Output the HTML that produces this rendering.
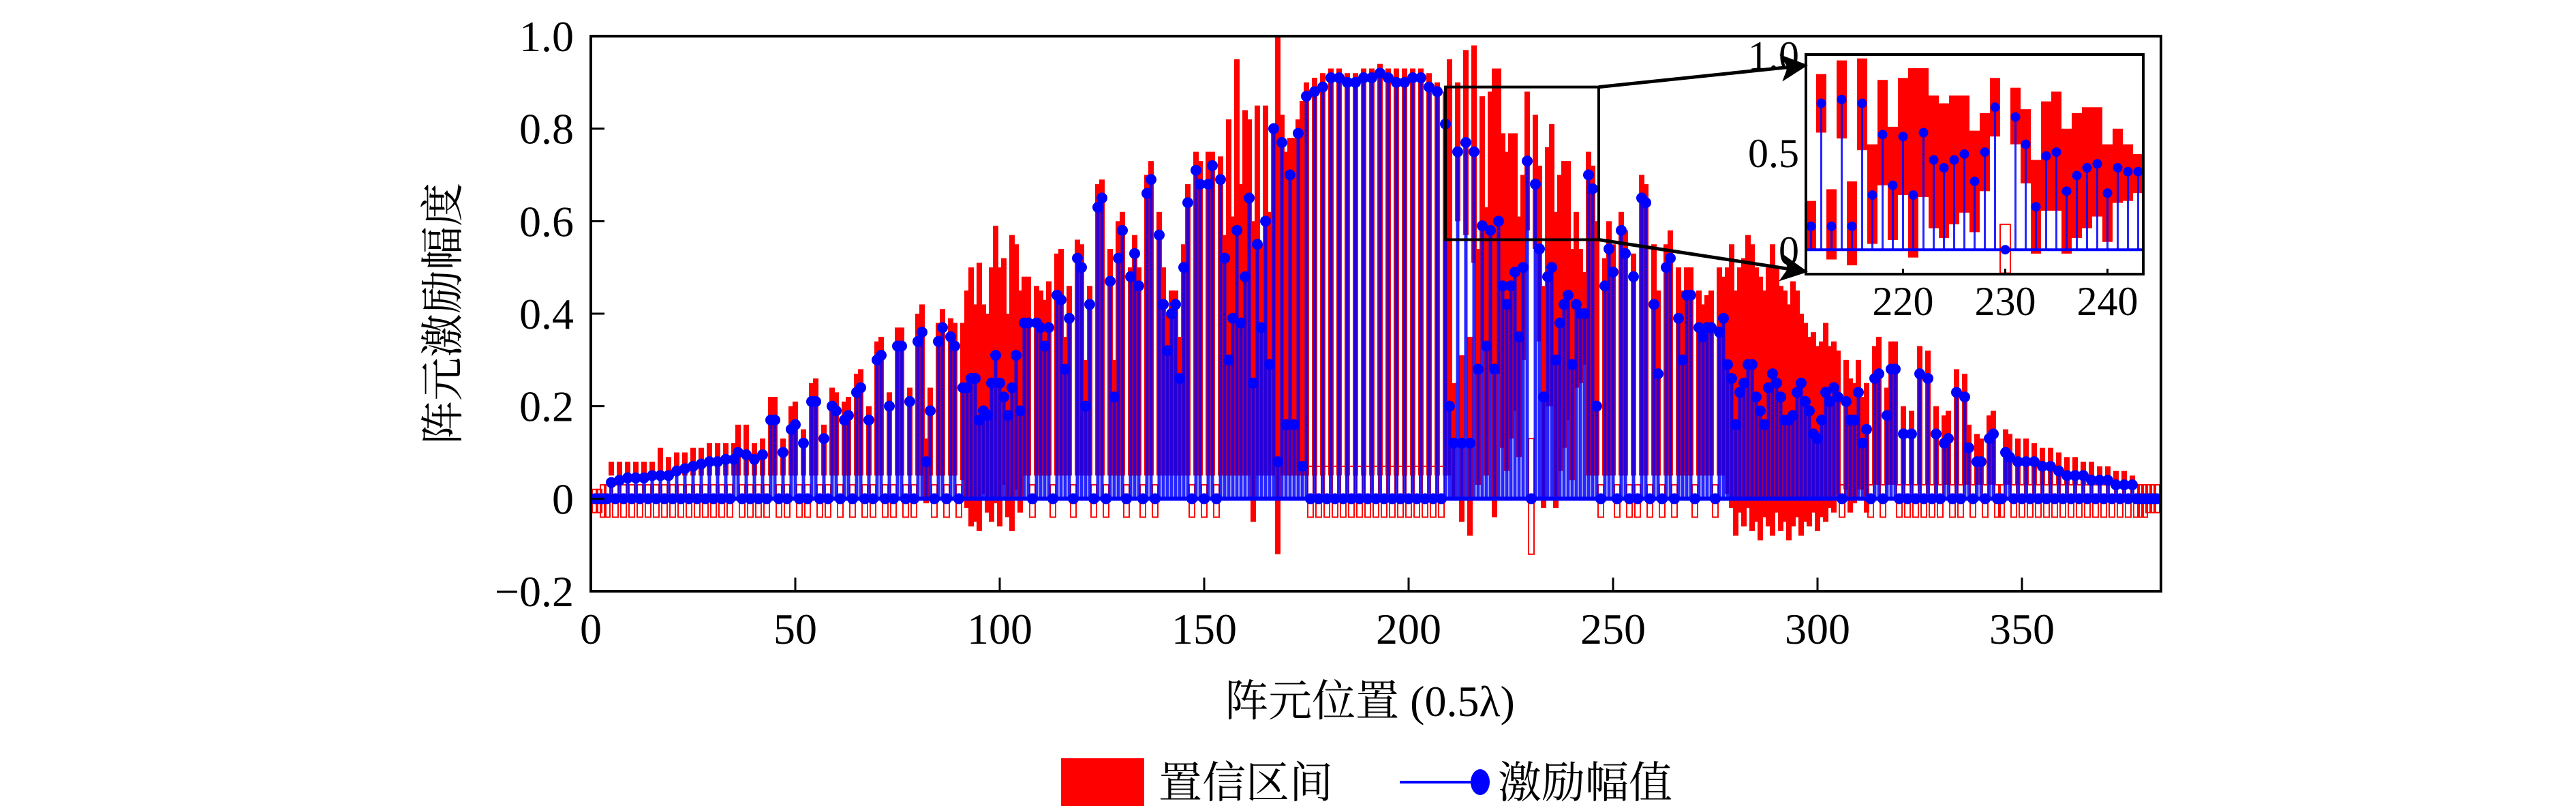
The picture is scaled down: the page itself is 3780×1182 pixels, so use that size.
<!DOCTYPE html>
<html><head><meta charset="utf-8">
<style>
html,body{margin:0;padding:0;background:#fff;}
svg{display:block;}
text{font-family:"Liberation Serif","Noto Serif CJK SC","Noto Sans CJK SC",serif;fill:#000;}
</style></head>
<body>
<svg id="chart" xmlns="http://www.w3.org/2000/svg" width="3780" height="1182" viewBox="0 0 3780 1182">
<g id="main"></g>
<g id="inset"></g>
<g id="annot"></g>
</svg>
<script>
// element index 1..383
const amp = [
0,0,0,0,.035,0,.04,0,.045,0,
.045,0,.045,0,.05,0,.05,0,.05,0,
.06,0,.065,0,.07,0,.075,0,.08,0,
.08,0,.085,0,.085,.1,0,.095,0,.085,
0,.095,0,.17,.17,0,.1,0,.15,.16,
0,.12,0,.21,.21,0,.13,0,.2,.19,
0,.17,.18,0,.23,.24,0,.17,0,.3,
.31,0,.2,0,.33,.33,0,.21,0,.34,
.36,.08,.19,0,.34,.37,0,.35,.33,0,
.24,.24,.26,.26,.17,.19,.18,.25,.31,.25,
.22,.18,.24,.31,.19,.38,.38,0,.38,.37,
.33,.37,0,.44,.43,.28,.39,0,.52,.5,
.2,.42,0,.63,.65,0,.47,.22,.52,.58,
0,.48,.53,.46,0,.66,.69,0,.57,.42,
.32,.4,.42,.26,.5,.64,0,.71,.68,0,
.68,.72,0,.69,.52,.3,.39,.58,.38,.48,
.65,.25,.55,.37,.6,.29,.8,.08,.77,.16,
.7,.16,.79,.07,.87,0,.88,0,.89,0,
.91,0,.91,0,.9,0,.9,0,.91,0,
.91,0,.92,0,.91,0,.9,0,.9,0,
.91,0,.91,0,.89,0,.88,0,.81,.2,
.12,.75,.12,.77,.12,.75,.28,.59,.33,.58,
.28,.6,.46,.42,.46,.49,.35,.5,.73,0,
.68,.54,.22,.48,.5,.3,.38,.42,.44,.29,
.42,.4,.4,.7,.67,.2,0,.46,.54,.49,
0,.58,.53,0,.48,0,.65,.64,0,.42,
.27,0,.5,.52,0,.39,.3,.44,.44,0,
.37,.35,.37,.37,0,.36,.39,.29,.26,.16,
.23,.25,.29,.29,.22,.19,.16,.24,.27,.25,
.22,.17,.17,.18,.23,.25,.21,.19,.14,.13,
.17,.23,.21,.24,.22,0,.21,.17,.17,.23,
.12,.15,0,.26,.27,0,.18,.28,.28,0,
.14,0,.14,0,.27,0,.26,0,.14,0,
.12,.13,0,.23,0,.22,.11,0,.08,.08,
0,.13,.14,0,0,.1,.09,0,.08,0,
.08,0,.08,0,.07,0,.07,0,.06,0,
.05,0,.05,0,.05,0,.04,0,.04,0,
.04,0,.03,0,.03,0,.03,0,0,0,
0,0,0];
const upper = [
.02,.02,.03,.03,.08,.03,.08,.03,.08,.03,
.08,.03,.08,.03,.08,.03,.11,.03,.09,.03,
.1,.03,.1,.03,.11,.03,.11,.03,.12,.03,
.12,.03,.12,.03,.12,.16,.03,.16,.03,.12,
.03,.13,.03,.22,.22,.03,.13,.03,.2,.21,
.03,.15,.03,.25,.26,.03,.16,.03,.24,.23,
.03,.21,.22,.03,.27,.28,.03,.2,.03,.34,
.35,.03,.23,.03,.37,.37,.03,.24,.03,.4,
.42,.13,.24,.03,.38,.41,.03,.39,.38,.03,
.38,.45,.5,.42,.51,.42,.4,.5,.59,.5,
.52,.4,.57,.55,.45,.48,.48,.03,.46,.45,
.43,.47,.03,.53,.54,.35,.46,.03,.56,.55,
.3,.46,.03,.68,.69,.03,.54,.3,.6,.62,
.03,.5,.57,.5,.03,.7,.73,.03,.62,.5,
.4,.45,.45,.35,.55,.68,.03,.75,.73,.03,
.75,.75,.03,.74,.57,.82,.61,.95,.68,.84,
.82,.6,.85,.55,.85,.62,.81,1.0,.83,.75,
.78,.78,.82,.86,.9,.07,.91,.07,.92,.07,
.93,.07,.93,.07,.92,.07,.92,.07,.93,.07,
.93,.07,.94,.07,.93,.07,.93,.07,.93,.07,
.93,.07,.93,.07,.92,.07,.9,.07,.88,.95,
.25,.9,.31,.97,.35,.98,.54,.87,.63,.88,
.93,.93,.79,.75,.79,.79,.61,.7,.88,.13,
.83,.72,.46,.76,.81,.62,.7,.73,.73,.54,
.62,.54,.49,.75,.72,.6,.03,.52,.6,.55,
.03,.62,.58,.03,.53,.03,.7,.68,.03,.55,
.45,.03,.55,.58,.03,.5,.45,.5,.5,.03,
.45,.42,.44,.45,.03,.5,.48,.5,.55,.45,
.5,.52,.57,.55,.5,.48,.45,.5,.55,.5,
.46,.45,.42,.47,.45,.4,.38,.35,.36,.33,
.34,.38,.33,.34,.32,.03,.3,.26,.25,.3,
.22,.25,.03,.33,.35,.03,.24,.34,.34,.03,
.2,.03,.19,.03,.33,.03,.32,.03,.2,.03,
.18,.19,.03,.28,.03,.27,.16,.03,.14,.13,
.03,.18,.19,.03,.03,.15,.14,.03,.13,.03,
.13,.03,.12,.03,.11,.03,.11,.03,.1,.03,
.09,.03,.09,.03,.08,.03,.08,.03,.07,.03,
.07,.03,.06,.03,.06,.03,.05,.03,.03,.03,
.03,.03,.03];
const lower = [
-.03,-.03,-.04,-.04,.05,-.04,.05,-.04,.05,-.04,
.05,-.04,.05,-.04,.05,-.04,.05,-.04,.05,-.04,
.05,-.04,.05,-.04,.05,-.04,.05,-.04,.05,-.04,
.05,-.04,.05,-.04,.05,.05,-.04,.05,-.04,.05,
-.04,.05,-.04,.05,.05,-.04,.05,-.04,.05,.05,
-.04,.05,-.04,.05,.05,-.04,.05,-.04,.05,.05,
-.04,.05,.05,-.04,.05,.05,-.04,.05,-.04,.05,
.05,-.04,.05,-.04,.05,.05,-.04,.05,-.04,.05,
.05,-.01,.05,-.04,.05,.05,-.04,.05,.05,-.04,
.04,-.02,-.06,-.05,-.07,.01,-.03,-.05,-.01,-.06,
.03,-.04,-.07,.02,-.03,.05,.05,-.04,.05,.05,
.05,.05,-.04,.05,.05,.05,.05,-.04,.05,.05,
.05,.05,-.04,.05,.05,-.04,.05,.05,.05,.05,
-.04,.05,.05,.05,-.04,.05,.05,-.04,.05,.05,
.05,.05,.05,.05,.05,.05,-.04,.05,.05,-.04,
.05,.05,-.04,.05,.05,.05,.05,.05,.05,.05,
.05,-.05,.05,.05,.05,.05,.05,-.12,.05,.05,
.05,.05,.05,.05,.05,-.04,.05,-.04,.05,-.04,
.05,-.04,.05,-.04,.05,-.04,.05,-.04,.05,-.04,
.05,-.04,.05,-.04,.05,-.04,.05,-.04,.05,-.04,
.05,-.04,.05,-.04,.05,-.04,.05,-.04,.05,.05,
0,.6,-.05,.57,-.08,.51,.03,.33,.05,.28,
-.04,.27,.11,.06,.13,.19,.09,.3,.58,-.12,
.54,.34,-.02,.2,.2,-.02,.06,.11,.17,.04,
.24,.25,.29,.05,.05,.05,-.04,.05,.05,.05,
-.04,.05,.05,-.04,.05,-.04,.05,.05,-.04,.05,
.05,-.04,.05,.05,-.04,.05,.05,.05,.05,-.04,
.05,.05,.05,.05,-.04,.05,.05,.01,-.02,-.08,
-.03,-.06,-.02,-.07,-.05,-.09,-.04,-.06,-.08,-.03,
-.07,-.05,-.09,-.06,-.04,-.08,-.05,-.06,-.03,-.07,
-.04,-.05,-.02,-.03,.01,-.04,.02,-.03,-.01,.02,
.02,-.03,-.04,.03,.03,-.04,.03,.03,.03,-.04,
.03,-.04,.03,-.04,.03,-.04,.03,-.04,.03,-.04,
.03,.03,-.04,.03,-.04,.03,.03,-.04,.03,.03,
-.04,.03,.03,-.04,-.04,.03,.03,-.04,.03,-.04,
.03,-.04,.03,-.04,.03,-.04,.03,-.04,.03,-.04,
.03,-.04,.03,-.04,.03,-.04,.03,-.04,.03,-.04,
.03,-.04,.03,-.04,.03,-.04,.03,-.04,-.04,-.04,
-.03,-.03,-.03];
const xTicks = [0,50,100,150,200,250,300,350];
const yTicks = [-0.2,0,0.2,0.4,0.6,0.8,1.0];
const yTickLabels = ["\u22120.2","0","0.2","0.4","0.6","0.8","1.0"];
const insetXTicks = [220,230,240];
const insetYTicks = [0,0.5,1.0];
const insetYLabels = ["0","0.5","1.0"];

const NS="http://www.w3.org/2000/svg";
function mk(tag,attrs,parent){const e=document.createElementNS(NS,tag);for(const k in attrs)e.setAttribute(k,attrs[k]);parent.appendChild(e);return e;}

function drawPanel(g, X, Y, x0, x1, barW, stemW, dotR, clipId, box){
  const defs=mk('defs',{},g);
  const cp=mk('clipPath',{id:clipId},defs);
  mk('rect',{x:box[0],y:box[1],width:box[2]-box[0],height:box[3]-box[1]},cp);
  const cg=mk('g',{'clip-path':'url(#'+clipId+')'},g);
  for(let i=0;i<amp.length;i++){
    const pos=i+1; if(pos<x0-1||pos>x1+1) continue;
    const cx=X(pos);
    const yt=Y(upper[i]), yb=Y(lower[i]);
    const r=mk('rect',{x:cx-barW/2,y:Math.min(yt,yb),width:barW,height:Math.abs(yb-yt)},cg);
    if(amp[i]===0){r.setAttribute('fill','none');r.setAttribute('stroke','#ff0000');r.setAttribute('stroke-width','2');}
    else r.setAttribute('fill','#ff0000');
    
    
  }
  const bl=mk('line',{x1:X(x0),x2:X(x1),y1:Y(0),y2:Y(0),stroke:'#0000ff','stroke-width':stemW+1},cg);
  
  
  for(let i=0;i<amp.length;i++){
    const pos=i+1; if(pos<x0-1||pos>x1+1) continue;
    const cx=X(pos);
    if(amp[i]!==0){
      const s=mk('line',{x1:cx,x2:cx,y1:Y(0),y2:Y(amp[i]),stroke:'#0000ff','stroke-width':stemW,'stroke-opacity':0.85},cg);
      
      
    }
    const d=mk('circle',{cx:cx,cy:Y(amp[i]),r:dotR,fill:'#0000ff'},cg);
    
    
  }
}

// main axes
const XMIN=0,XMAX=384,YMIN=-0.2,YMAX=1.0;
const L=867,R=867+384*6.0,T=53,B=867;
const X=v=>L+(v-XMIN)/(XMAX-XMIN)*(R-L);
const Y=v=>B-(v-YMIN)/(YMAX-YMIN)*(B-T);
const main=document.getElementById('main');
drawPanel(main,X,Y,0,384,8,5,8,'clipMain',[L,T-10,R,B]);
const frame=mk('rect',{x:L,y:T,width:R-L,height:B-T,fill:'none',stroke:'#000','stroke-width':4},main);


xTicks.forEach(v=>{
  const t=mk('line',{x1:X(v),x2:X(v),y1:B,y2:B-20,stroke:'#000','stroke-width':3},main);
  
  
  const tx=mk('text',{x:X(v),y:944,'font-size':64,'text-anchor':'middle'},main);
  tx.textContent=v;
  
  
});
yTicks.forEach((v,k)=>{
  const t=mk('line',{x1:L,x2:L+20,y1:Y(v),y2:Y(v),stroke:'#000','stroke-width':3},main);
  
  
  const tx=mk('text',{x:842,y:Y(v)+22,'font-size':64,'text-anchor':'end'},main);
  tx.textContent=yTickLabels[k];
  
  
});

// inset
const iL=2650,iR=3145,iT=80,iB=402,IX0=210.5,IX1=243.5,IY0=-0.125,IY1=1.0;
const IX=v=>iL+(v-IX0)/(IX1-IX0)*(iR-iL);
const IY=v=>iB-(v-IY0)/(IY1-IY0)*(iB-iT);
const inset=document.getElementById('inset');
mk('rect',{x:iL,y:iT,width:iR-iL,height:iB-iT,fill:'#fff'},inset);
drawPanel(inset,IX,IY,IX0,IX1,15,3,7,'clipInset',[iL,iT,iR,iB]);
const iframe=mk('rect',{x:iL,y:iT,width:iR-iL,height:iB-iT,fill:'none',stroke:'#000','stroke-width':4},inset);


insetXTicks.forEach(v=>{
  mk('line',{x1:IX(v),x2:IX(v),y1:iB,y2:iB-8,stroke:'#000','stroke-width':3},inset);
  const tx=mk('text',{x:IX(v),y:462,'font-size':60,'text-anchor':'middle'},inset);
  tx.textContent=v;
  
  
});
insetYTicks.forEach((v,k)=>{
  const tx=mk('text',{x:2640,y:IY(v)+22,'font-size':60,'text-anchor':'end'},inset);
  tx.textContent=insetYLabels[k];
  
  
});

// zoom rectangle + arrows
const an=document.getElementById('annot');
const zr=mk('rect',{x:X(209),y:Y(0.89),width:X(246.5)-X(209),height:Y(0.56)-Y(0.89),fill:'none',stroke:'#000','stroke-width':4},an);


const dm=mk('defs',{},an);
const mkr=mk('marker',{id:'arr',markerWidth:8,markerHeight:8,refX:7,refY:4,orient:'auto',markerUnits:'strokeWidth'},dm);
mk('path',{d:'M0,0 L8,4 L0,8 L2,4 Z',fill:'#000'},mkr);
const a1=mk('line',{x1:X(246.5),y1:Y(0.89),x2:2648,y2:96,stroke:'#000','stroke-width':5,'marker-end':'url(#arr)'},an);


const a2=mk('line',{x1:X(246.5),y1:Y(0.56),x2:2648,y2:398,stroke:'#000','stroke-width':5,'marker-end':'url(#arr)'},an);



// axis titles
const yt=mk('text',{x:0,y:0,'font-size':64,'text-anchor':'middle',transform:'translate(672,460) rotate(-90)'},an);
yt.textContent='阵元激励幅度';


const xt=mk('text',{x:2010,y:1050,'font-size':64,'text-anchor':'middle'},an);
xt.textContent='阵元位置 (0.5λ)';



// legend
const lg=mk('g',{},an);


const lr=mk('rect',{x:1557,y:1112,width:122,height:70,fill:'#ff0000'},lg);


const l1=mk('text',{x:1700,y:1170,'font-size':64},lg);
l1.textContent='置信区间';


const ll=mk('line',{x1:2054,x2:2170,y1:1147,y2:1147,stroke:'#0000ff','stroke-width':4},lg);


const lc=mk('ellipse',{cx:2172,cy:1147,rx:14,ry:19,fill:'#0000ff'},lg);


const l2=mk('text',{x:2198,y:1170,'font-size':64},lg);
l2.textContent='激励幅值';


</script>
</body></html>
